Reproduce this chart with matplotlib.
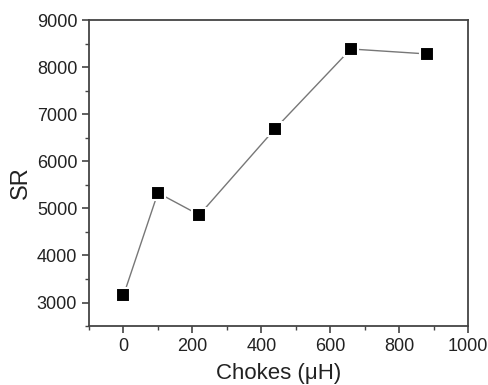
import matplotlib
matplotlib.use("Agg")
import matplotlib.pyplot as plt
from matplotlib.ticker import MultipleLocator

plt.rcParams['font.family'] = ['Liberation Sans', 'DejaVu Sans']

chokes = [0, 100, 220, 440, 660, 880]
sr = [3150, 5330, 4860, 6690, 8385, 8280]

fig = plt.figure(figsize=(4.89, 3.85), dpi=100)
ax = fig.add_axes([0.182, 0.153, 0.775, 0.795])

ax.plot(chokes, sr, color='#777777', linewidth=1.0, marker='s', markersize=10,
        markerfacecolor='black', markeredgecolor='white', markeredgewidth=1.5)

ax.set_xlim(-100, 1000)
ax.set_ylim(2500, 9000)
ax.xaxis.set_major_locator(MultipleLocator(200))
ax.xaxis.set_minor_locator(MultipleLocator(100))
ax.yaxis.set_major_locator(MultipleLocator(1000))
ax.yaxis.set_minor_locator(MultipleLocator(500))

for sp in ax.spines.values():
    sp.set_color('#444444')
    sp.set_linewidth(1.3)

ax.tick_params(which='both', direction='out', colors='#444444', labelcolor='#222222',
               top=False, right=False)
ax.tick_params(which='major', length=5, width=1.2, labelsize=13)
ax.tick_params(which='minor', length=3, width=1.0)

ax.set_xlabel('Chokes (μH)', fontsize=16, color='#222222', labelpad=6)
ax.set_ylabel('SR', fontsize=17, color='#222222')
ax.yaxis.set_label_coords(-0.152, 0.47)

fig.savefig('out.png', dpi=100)
